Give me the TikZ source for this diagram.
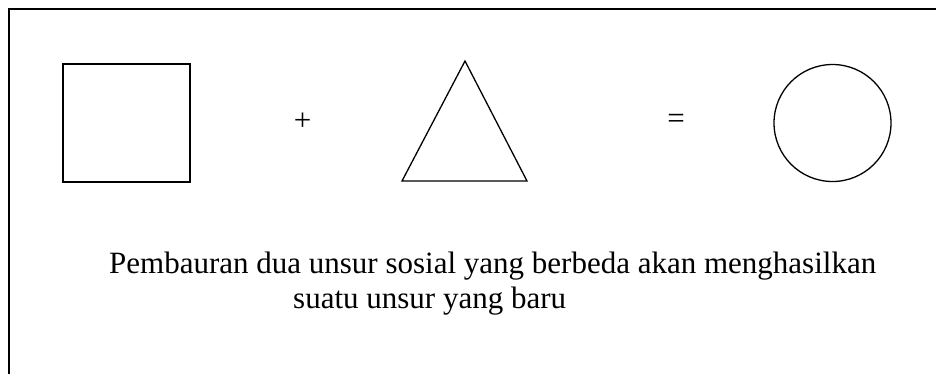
\documentclass[tikz,border=0pt]{standalone}
\usepackage{fontspec}
\setmainfont{Liberation Serif}
\tikzset{
  shape line/.style={draw=black, line width=1.3pt},
  caption text/.style={inner sep=0pt, anchor=base west, font=\fontsize{31}{36}\selectfont},
  op text/.style={inner sep=0pt, font=\fontsize{31}{36}\selectfont}
}
\begin{document}
\begin{tikzpicture}[x=1pt,y=-1pt]
\useasboundingbox (0,0) rectangle (936,373);
\clip (0,0) rectangle (936,373);
\draw[line width=2pt] (8.5,400) -- (8.5,8.5) -- (950,8.5);
\node[shape line, rectangle, minimum width=127pt, minimum height=118pt, inner sep=0pt] (sq) at (126.5,123) {};
\node[op text] (plus) at (302.7,122) {+};
\coordinate (ta) at (465,61);
\coordinate (tl) at (402,181);
\coordinate (tr) at (527,181);
\draw[shape line, line join=miter] (ta) -- (tl) -- (tr) -- cycle;
\node[op text] (eq) at (676,121.5) {=};
\node[shape line, circle, minimum size=117pt, inner sep=0pt] (ci) at (832.5,123) {};
\node[caption text] (l1) at (109,273) {Pembauran dua unsur sosial yang berbeda akan menghasilkan};
\node[caption text] (l2) at (293,308) {suatu unsur yang baru};
\end{tikzpicture}
\end{document}
